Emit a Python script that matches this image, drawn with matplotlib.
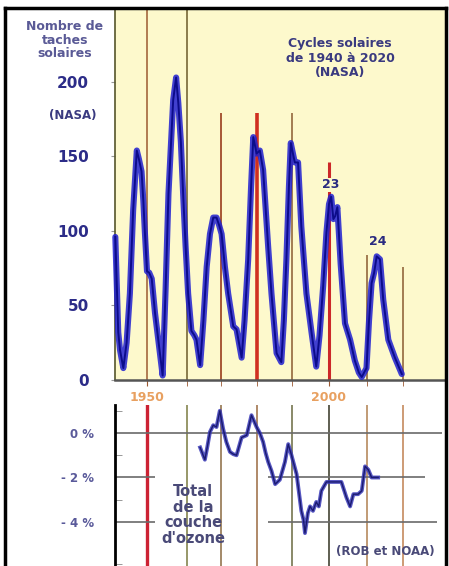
import matplotlib
matplotlib.use("Agg")
import matplotlib.pyplot as plt
from matplotlib.lines import Line2D

# sunspot number (smoothed)
spot_years = [1941.3, 1942.1, 1942.6, 1943.5, 1944.4, 1945.3, 1946.2, 1947.2, 1947.8, 1948.5,
              1949.0, 1949.4, 1950.0, 1950.6, 1951.3, 1952.2, 1953.1, 1954.3, 1955.1, 1955.9,
              1957.2, 1958.0, 1958.6, 1959.3, 1960.0, 1960.6, 1961.3, 1962.2, 1963.0, 1963.6,
              1964.6, 1965.5, 1966.4, 1967.3, 1968.2, 1969.1, 1969.8, 1970.5, 1971.4, 1972.3,
              1973.7, 1974.6, 1976.0, 1976.8, 1977.8, 1978.6, 1979.2, 1980.1, 1981.0, 1981.9,
              1982.6, 1983.3, 1984.2, 1985.6, 1986.9, 1987.6, 1988.3, 1989.0, 1989.5, 1990.6,
              1991.5, 1992.4, 1993.8, 1995.2, 1996.5, 1997.4, 1998.4, 1999.3, 2000.0, 2000.6,
              2001.2, 2001.7, 2002.3, 2002.8, 2003.2, 2004.4, 2005.8, 2007.1, 2008.2, 2009.0,
              2010.3, 2011.0, 2011.7, 2012.4, 2013.1, 2014.0, 2014.9, 2016.3, 2018.1, 2020.0]
spot_values = [96, 32, 20, 8, 25, 58, 114, 154, 148, 140,
               120, 100, 73, 72, 68, 45, 27, 3, 60, 125,
               188, 203, 186, 160, 121, 90, 58, 33, 30, 27,
               10, 40, 76, 98, 109, 109, 104, 98, 76, 58,
               36, 34, 15, 40, 81, 130, 163, 152, 154, 141,
               115, 89, 58, 18, 12, 40, 81, 130, 159, 146,
               146, 103, 58, 32, 9, 30, 63, 99, 118, 123,
               108, 110, 116, 95, 78, 38, 27, 13, 5, 2,
               8, 40, 65, 72, 83, 81, 54, 27, 15, 4]

# total ozone anomaly (%)
ozone_years = [1964.6, 1965.9, 1966.6, 1967.3, 1968.2, 1969.1, 1970.0, 1970.9, 1971.8, 1972.8,
               1973.7, 1974.6, 1976.0, 1977.4, 1978.7, 1980.1, 1981.0, 1981.9, 1982.6, 1983.3,
               1984.2, 1985.2, 1986.5, 1987.9, 1988.8, 1989.7, 1991.1, 1992.4, 1993.0, 1993.4,
               1994.2, 1994.8, 1995.6, 1996.5, 1997.2, 1997.9, 1999.3, 2000.6, 2003.4, 2004.8,
               2005.8, 2006.7, 2008.0, 2009.0, 2009.9, 2010.8, 2011.7, 2013.5]
ozone_values = [-0.65, -1.2, -0.6, 0.05, 0.35, 0.27, 1.0, 0.2, -0.4, -0.85,
                -0.95, -1.0, -0.2, -0.1, 0.8, 0.27, 0.0, -0.4, -0.9, -1.3,
                -1.7, -2.3, -2.1, -1.3, -0.5, -1.0, -1.85, -3.5, -3.9, -4.5,
                -3.6, -3.3, -3.5, -3.1, -3.3, -2.6, -2.2, -2.2, -2.2, -2.9,
                -3.3, -2.75, -2.75, -2.6, -1.5, -1.65, -2.0, -2.0]

# vertical marker lines: year, top in sunspot units, colour, width
mark_years = [1950, 1961, 1970.3, 1980.2, 1989.8, 2000, 2010.4, 2020.3]
mark_tops = [248, 248, 179, 179, 179, 146, 84, 76]
mark_colors = ["#9c5a32", "#6b5a2a", "#a04a2a", "#d03020", "#8a5a30", "#cc2828", "#8a5a30", "#8a5a30"]
mark_widths = [1.1, 1.1, 1.3, 2.6, 1.1, 2.2, 1.1, 1.1]
low_colors = ["#cc2233", "#7a7a40", "#8a6a40", "#9a6a40", "#6a6a40", "#333322", "#b08050", "#c08050"]
low_widths = [2.4, 1.1, 1.1, 1.1, 1.1, 1.1, 1.1, 1.1]

W, H = 449, 566
fig = plt.figure(figsize=(W / 100, H / 100), dpi=100)
fig.patch.set_facecolor("white")


def fx(x):
    return x / W


def fy(y):
    return 1 - y / H


x0, x1 = 1941.21, 2031.87

# upper chart: sunspots
ax = fig.add_axes([fx(115), fy(380), 330 / W, 370 / H])
ax.set_facecolor("#fdf9cc")
ax.set_xlim(x0, x1)
ax.set_ylim(0, 248.3)
for s in ["top", "right"]:
    ax.spines[s].set_visible(False)
ax.spines["left"].set_color("#55552a")
ax.spines["left"].set_linewidth(1.2)
ax.spines["bottom"].set_color("#555555")
ax.spines["bottom"].set_linewidth(1.8)

for yr, top, c, w in zip(mark_years, mark_tops, mark_colors, mark_widths):
    ax.vlines(yr, 0, top, color=c, lw=w, zorder=2)

ax.plot(spot_years, spot_values, color="#2020d0", lw=4.4, alpha=0.85, zorder=3,
        solid_joinstyle="round", solid_capstyle="round", clip_on=False)
ax.plot(spot_years, spot_values, color="#0c0c8a", lw=1.4, zorder=4,
        solid_joinstyle="round", clip_on=False)

ax.set_yticks([0, 50, 100, 150, 200])
ax.set_yticklabels(["0", "50", "100", "150", "200"])
ax.tick_params(axis="y", length=3, color="#999999", pad=16, labelsize=11,
               labelcolor="#2c2c88")
for t in ax.get_yticklabels():
    t.set_fontweight("bold")
ax.set_xticks([1950, 2000])
ax.set_xticklabels(["1950", "2000"])
ax.set_xticks(mark_years, minor=True)
ax.tick_params(axis="x", which="both", length=4, color="#9c5a32", pad=4,
               labelsize=9, labelcolor="#e8a060")
for t in ax.get_xticklabels():
    t.set_fontweight("bold")

ax.text(2000.5, 131, "23", ha="center", va="center", fontsize=9, fontweight="bold",
        color="#2a2a80", zorder=5,
        bbox=dict(facecolor="#fdf9cc", edgecolor="none", pad=0.5))
ax.text(2013.3, 93, "24", ha="center", va="center", fontsize=9, fontweight="bold",
        color="#2a2a80", zorder=5)

# lower chart: ozone
ax2 = fig.add_axes([fx(115), 0, 330 / W, fy(405)])
ax2.set_facecolor("none")
ax2.set_xlim(x0, x1)
ax2.set_ylim(-5.98, 1.26)
for s in ["top", "right", "bottom"]:
    ax2.spines[s].set_visible(False)
ax2.spines["left"].set_color("black")
ax2.spines["left"].set_linewidth(2)

for yr, c, w in zip(mark_years, low_colors, low_widths):
    ax2.axvline(yr, color=c, lw=w, zorder=1)

ax2.hlines(0, x0, 2031.0, color="#6a6a6a", lw=1.2, zorder=2)
ax2.hlines([-2, -2], [x0, 1983.2], [1952.2, 2026.4], color="#6a6a6a", lw=1.2, zorder=2)
ax2.hlines([-4, -4], [x0, 1983.2], [1952.2, 2029.7], color="#6a6a6a", lw=1.2, zorder=2)

ax2.plot(ozone_years, ozone_values, color="#3a3ab8", lw=2.8, alpha=0.85, zorder=3)
ax2.plot(ozone_years, ozone_values, color="#1a1a70", lw=1.0, zorder=4)

ax2.set_xticks([])
ax2.set_yticks([0, -2, -4])
ax2.set_yticklabels(["0 %", "- 2 %", "- 4 %"])
ax2.set_yticks([1, -1, -3, -5.9], minor=True)
ax2.tick_params(axis="y", which="major", length=0, pad=15, labelsize=8.5,
                labelcolor="#5a5a9a")
ax2.tick_params(axis="y", which="minor", direction="in", length=5, color="#888888")
for t in ax2.get_yticklabels():
    t.set_fontweight("bold")

fig.text(fx(193), fy(515), "Total\nde la\ncouche\nd'ozone", ha="center", va="center",
         fontsize=10.5, fontweight="bold", color="#4a4a78", linespacing=1.05)
fig.text(fx(385), fy(552), "(ROB et NOAA)", ha="center", va="center",
         fontsize=8.5, fontweight="bold", color="#4a4a78")

# texts in the upper part
fig.text(fx(65), fy(40), "Nombre de\ntaches\nsolaires", ha="center", va="center",
         fontsize=9, fontweight="bold", color="#5a5a96", linespacing=1.05)
fig.text(fx(73), fy(115), "(NASA)", ha="center", va="center",
         fontsize=8.5, fontweight="bold", color="#3a3a80")
fig.text(fx(340), fy(58), "Cycles solaires\nde 1940 à 2020\n(NASA)", ha="center", va="center",
         fontsize=9, fontweight="bold", color="#3a3a80", linespacing=1.1)

# outer frame
frame = [([5, 5], [566, 8]), ([5, 446], [8, 8]), ([446, 446], [8, 566])]
for xs, ys in frame:
    fig.add_artist(Line2D([fx(v) for v in xs], [fy(v) for v in ys], color="black", lw=2.5))

fig.savefig("out.png", dpi=100)
